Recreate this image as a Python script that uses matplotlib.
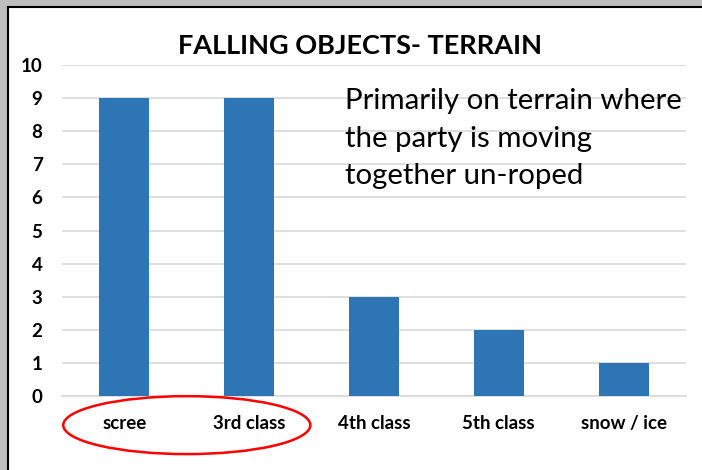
import matplotlib.pyplot as plt
from matplotlib.patches import Ellipse, Rectangle
from matplotlib.lines import Line2D

# dados do gráfico
categorias = ["scree", "3rd class", "4th class", "5th class", "snow / ice"]
valores = [9, 9, 3, 2, 1]
titulo = "FALLING OBJECTS- TERRAIN"
nota = "Primarily on terrain where\nthe party is moving\ntogether un-roped"

plt.rcParams["font.family"] = ["Lato", "DejaVu Sans"]

fig = plt.figure(figsize=(7.02, 4.70), dpi=100)
fig.patch.set_facecolor("#bfbfbf")

# fundo branco e borda preta (esquerda e topo)
fig.patches.append(Rectangle((8 / 702, 0), 1, 1 - 7 / 470, transform=fig.transFigure,
                             facecolor="white", edgecolor="none", zorder=-10))
fig.lines.append(Line2D([8 / 702, 8 / 702], [0, 1 - 7 / 470], transform=fig.transFigure,
                        color="black", lw=1.5, zorder=-5))
fig.lines.append(Line2D([8 / 702, 1], [1 - 7 / 470, 1 - 7 / 470], transform=fig.transFigure,
                        color="black", lw=1.5, zorder=-5))

ax = fig.add_axes([62 / 702, 74 / 470, 624 / 702, 331 / 470])
ax.set_facecolor("none")

x = range(len(categorias))
ax.bar(x, valores, width=0.4, color="#2e75b6", zorder=3)

ax.set_xlim(-0.5, len(categorias) - 0.5)
ax.set_ylim(0, 10)
ax.set_yticks(range(0, 11))
ax.set_xticks(list(x))
ax.set_xticklabels(categorias)

for lbl in ax.get_xticklabels() + ax.get_yticklabels():
    lbl.set_fontweight("bold")
    lbl.set_fontsize(13.5)
ax.tick_params(axis="y", length=0, pad=14)
ax.tick_params(axis="x", length=0, pad=14)

ax.grid(axis="y", color="#d9d9d9", lw=1.2, zorder=0)
for s in ["top", "right", "left"]:
    ax.spines[s].set_visible(False)
ax.spines["bottom"].set_color("#d9d9d9")
ax.spines["bottom"].set_linewidth(1.2)

fig.text(360 / 702, 1 - 46 / 470, titulo, ha="center", va="center",
         fontsize=19.5, fontweight="bold")

ax.text(1.77, 9.3, nota, ha="left", va="top", fontsize=21.2, linespacing=1.55, zorder=4)

# elipse vermelha em volta de scree e 3rd class
ax.add_patch(Ellipse((0.5, -0.88), 1.98, 1.75, fill=False, edgecolor="red",
                     lw=1.8, clip_on=False, zorder=5))

plt.savefig("out.png", dpi=100)
plt.close()
